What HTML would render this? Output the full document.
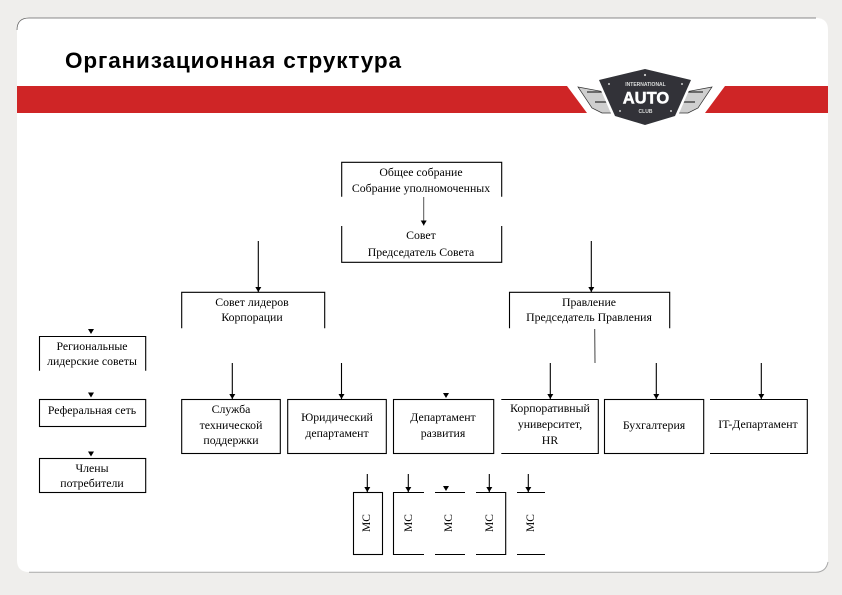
<!DOCTYPE html>
<html><head><meta charset="utf-8"><style>
html,body{margin:0;padding:0;background:#efeeec}
svg{display:block}
.t{font-family:"Liberation Serif",serif;font-size:11.8px;fill:#000;text-anchor:middle;filter:url(#b)}
.m{font-family:"Liberation Serif",serif;font-size:11.5px;fill:#000;text-anchor:middle;filter:url(#b)}
.l{fill:none;stroke:#000;stroke-width:1.1}
.a{stroke:#000;stroke-width:1.1;fill:none}
</style></head><body>
<svg width="842" height="595" viewBox="0 0 842 595" xmlns="http://www.w3.org/2000/svg">
<defs><filter id="b" x="-5%" y="-20%" width="110%" height="140%"><feGaussianBlur stdDeviation="0.3"/></filter>
<filter id="c" x="-5%" y="-5%" width="110%" height="110%"><feGaussianBlur stdDeviation="0.35"/></filter>
<marker id="h" markerWidth="6" markerHeight="6" refX="5" refY="3" orient="auto" markerUnits="userSpaceOnUse"><path d="M0,0L5,3L0,6Z" fill="#000"/></marker></defs>
<rect width="842" height="595" fill="#efeeec"/>
<path d="M17 30Q17 18 29 18H816Q828 18 828 30V560Q828 572 816 572H29Q17 572 17 560Z" fill="#fff"/>
<path d="M17 30Q17 18 29 18H816" fill="none" stroke="#666" stroke-width="0.8"/>
<path d="M29 572.300H816Q826 572 828 562" fill="none" stroke="#aaa" stroke-width="1"/>
<path d="M17 86H567L587 113H17Z M725 86H828V113H705Z" fill="#cf2526"/>
<text x="65" y="68" font-family="Liberation Sans,sans-serif" font-weight="700" font-size="22.500" textLength="336" lengthAdjust="spacing" fill="#000">Организационная структура</text>

<g filter="url(#c)">
<path d="M578 87L605 92L612 113H602L592 108Z M712 87L685 92L678 113H688L698 108Z" fill="#cfcfcf" stroke="#333" stroke-width="0.7"/>
<path d="M587 92H607M595 102H610M703 92H683M695 102H680" stroke="#333" stroke-width="1.200"/>
<path d="M645 67L694 79L677 118L645 128L613 118L596 79Z" fill="#fff"/>
<path d="M645 69L691 80L675 116L645 125L615 116L599 80Z" fill="#303337"/>
<text x="645.500" y="86" font-family="Liberation Sans,sans-serif" font-size="5" font-weight="700" fill="#ddd" text-anchor="middle">INTERNATIONAL</text>
<text x="646" y="103.500" font-family="Liberation Sans,sans-serif" font-size="16.500" font-weight="700" fill="#fff" text-anchor="middle" stroke="#fff" stroke-width="0.5">AUTO</text>
<text x="645.500" y="113" font-family="Liberation Sans,sans-serif" font-size="5" font-weight="700" fill="#ddd" text-anchor="middle">CLUB</text>
<circle cx="645" cy="75" r="1.100" fill="#ccc"/><circle cx="609" cy="84" r="1" fill="#ccc"/><circle cx="682" cy="84" r="1" fill="#ccc"/><circle cx="620" cy="111" r="1" fill="#ccc"/><circle cx="671" cy="111" r="1" fill="#ccc"/>
</g>

<path class="l" d="M341.700 196.700V162.300H501.700V196.700"/>
<path class="l" d="M341.700 226V262.300H501.700V226"/>
<path class="l" d="M181.700 328.300V292.300H324.700V328.300"/>
<path class="l" d="M509.500 328.300V292.300H669.700V328.300"/>
<path class="l" d="M39.500 370.700V336.500H145.700V370.700"/>
<rect class="l" x="39.500" y="399.500" width="106.200" height="27"/>
<rect class="l" x="39.500" y="458.500" width="106.200" height="34"/>
<rect class="l" x="181.700" y="399.500" width="98.600" height="54"/>
<rect class="l" x="287.700" y="399.500" width="98.600" height="54"/>
<rect class="l" x="393.500" y="399.500" width="100.200" height="54"/>
<path class="l" d="M501.300 399.500H598.300V453.500H501.300"/>
<rect class="l" x="604.500" y="399.500" width="99.200" height="54"/>
<path class="l" d="M710 399.500H807.300V453.500H710"/>
<rect class="l" x="353.500" y="492.500" width="29" height="62"/>
<path class="l" d="M424 492.500H393.500V554.500H424"/>
<path class="l" d="M435 492.500H465M435 554.500H465"/>
<path class="l" d="M476 492.500H505.700V554.500H476"/>
<path class="l" d="M517 492.500H545M517 554.500H545"/>

<line x1="423.700" y1="197" x2="423.700" y2="225.500" stroke="#555" marker-end="url(#h)"/>
<line class="a" x1="258.300" y1="241" x2="258.300" y2="292" marker-end="url(#h)"/>
<line class="a" x1="591.300" y1="241" x2="591.300" y2="292" marker-end="url(#h)"/>
<line x1="594.700" y1="329" x2="595" y2="363" stroke="#444" stroke-width="1"/>
<line class="a" x1="232.300" y1="363" x2="232.300" y2="399" marker-end="url(#h)"/>
<line class="a" x1="341.500" y1="363" x2="341.500" y2="399" marker-end="url(#h)"/>
<line class="a" x1="550.300" y1="363" x2="550.300" y2="399" marker-end="url(#h)"/>
<line class="a" x1="656.300" y1="363" x2="656.300" y2="399" marker-end="url(#h)"/>
<line class="a" x1="761.300" y1="363" x2="761.300" y2="399" marker-end="url(#h)"/>
<path d="M88 329H94L91 334Z M88 392.500H94L91 397.500Z M88 451.500H94L91 456.500Z M443 393H449L446 398Z M443 486H449L446 491Z" fill="#000"/>
<line class="a" x1="367.300" y1="474" x2="367.300" y2="492" marker-end="url(#h)"/>
<line class="a" x1="408.300" y1="474" x2="408.300" y2="492" marker-end="url(#h)"/>
<line class="a" x1="489.300" y1="474" x2="489.300" y2="492" marker-end="url(#h)"/>
<line class="a" x1="528.300" y1="474" x2="528.300" y2="492" marker-end="url(#h)"/>

<text class="t" x="421" y="176">Общее собрание</text>
<text class="t" x="421" y="192">Собрание уполномоченных</text>
<text class="t" x="421" y="239">Совет</text>
<text class="t" x="421" y="256">Председатель Совета</text>
<text class="t" x="252" y="306">Совет лидеров</text>
<text class="t" x="252" y="321">Корпорации</text>
<text class="t" x="589" y="306">Правление</text>
<text class="t" x="589" y="321">Председатель Правления</text>
<text class="t" x="92" y="350">Региональные</text>
<text class="t" x="92" y="365">лидерские советы</text>
<text class="t" x="92" y="414">Реферальная сеть</text>
<text class="t" x="92" y="472">Члены</text>
<text class="t" x="92" y="487">потребители</text>
<text class="t" x="231" y="413">Служба</text>
<text class="t" x="231" y="429">технической</text>
<text class="t" x="231" y="444">поддержки</text>
<text class="t" x="337" y="421">Юридический</text>
<text class="t" x="337" y="437">департамент</text>
<text class="t" x="443" y="421">Департамент</text>
<text class="t" x="443" y="437">развития</text>
<text class="t" x="550" y="412">Корпоративный</text>
<text class="t" x="550" y="428">университет,</text>
<text class="t" x="550" y="444">HR</text>
<text class="t" x="654" y="429">Бухгалтерия</text>
<text class="t" x="758" y="428">IT-Департамент</text>

<text class="m" transform="translate(370,523) rotate(-90)">МС</text>
<text class="m" transform="translate(412,523) rotate(-90)">МС</text>
<text class="m" transform="translate(452,523) rotate(-90)">МС</text>
<text class="m" transform="translate(493,523) rotate(-90)">МС</text>
<text class="m" transform="translate(534,523) rotate(-90)">МС</text>
</svg>
</body></html>
